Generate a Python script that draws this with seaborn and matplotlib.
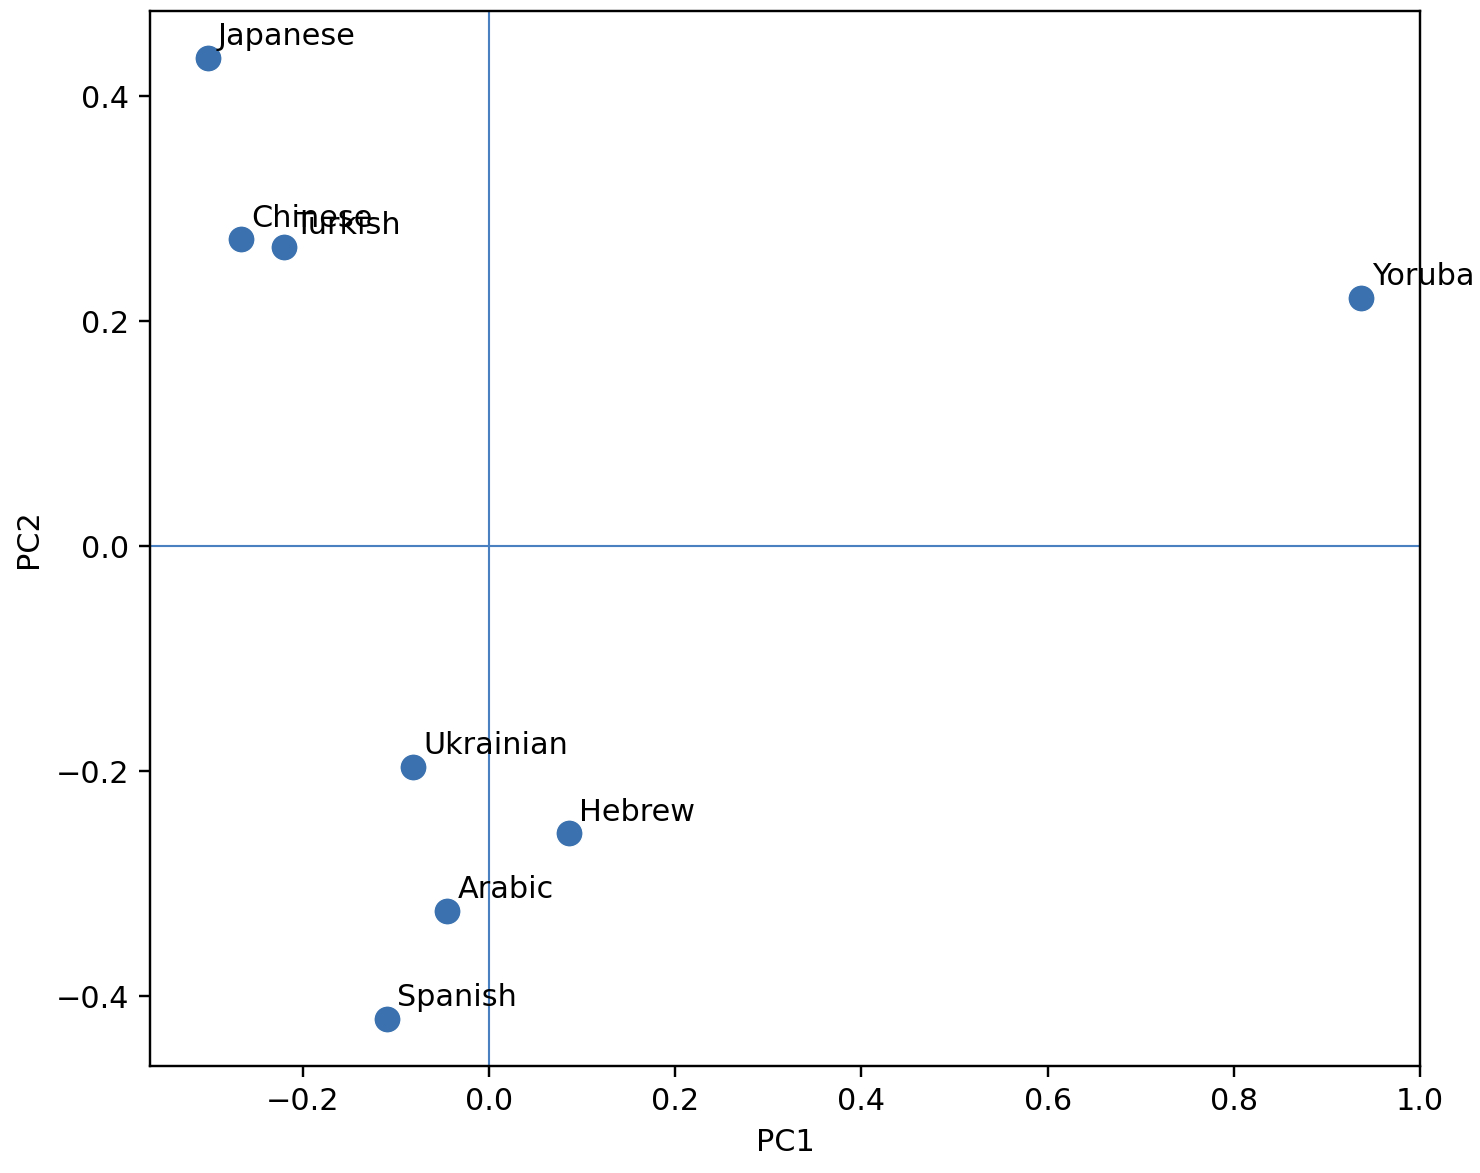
import matplotlib
matplotlib.use("Agg")
import matplotlib.pyplot as plt
import seaborn as sns
import pandas as pd

# PCA coordinates
languages = ["Japanese", "Chinese", "Turkish", "Yoruba", "Ukrainian", "Hebrew", "Arabic", "Spanish"]
pc1 = [-0.302, -0.266, -0.220, 0.937, -0.0815, 0.086, -0.045, -0.110]
pc2 = [0.434, 0.273, 0.266, 0.221, -0.196, -0.255, -0.324, -0.420]

df = pd.DataFrame({"language": languages, "PC1": pc1, "PC2": pc2})

dpi = 217.6
fig, ax = plt.subplots(figsize=(1480 / dpi, 1173 / dpi), dpi=dpi)
fig.subplots_adjust(left=0.1014, right=0.9595, bottom=0.0912, top=0.9906)

sns.scatterplot(data=df, x="PC1", y="PC2", ax=ax, s=80, color="#3a71ae",
                edgecolor="white", linewidth=0.4, zorder=3)

ax.axhline(0, color="#4a80bf", linewidth=0.7, zorder=1)
ax.axvline(0, color="#4a80bf", linewidth=0.7, zorder=1)

for lang, x, y in zip(languages, pc1, pc2):
    ax.text(x + 0.011, y + 0.011, lang, fontsize=10, clip_on=False)

ax.set_xlim(-0.364, 1.0)
ax.set_ylim(-0.462, 0.4756)
ax.set_xlabel("PC1")
ax.set_ylabel("PC2")

fig.savefig("out.png", dpi=dpi)
